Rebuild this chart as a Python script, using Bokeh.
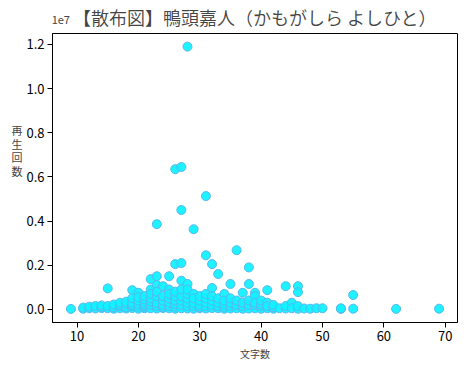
from bokeh.plotting import figure
from bokeh.models import FixedTicker, CustomJSTickFormatter, Range1d, LinearAxis
from bokeh.embed import file_html
from bokeh.resources import INLINE

FONT = "Noto Sans CJK JP"
TITLE_FONT = "'Noto Sans CJK JP DemiLight', 'Noto Sans CJK JP'"

title_text = "【散布図】鴨頭嘉人（かもがしら よしひと）"
x_label = "文字数"
y_label_chars = ["再", "生", "回", "数"]
offset_text = "1e7"
x_ticks = [10, 20, 30, 40, 50, 60, 70]
y_ticks = [0, 2000000, 4000000, 6000000, 8000000, 10000000, 12000000]

char_counts = [
    9,
    11, 11, 12, 12, 13, 13, 14, 14, 14, 15, 15, 15, 16, 16, 16,
    17, 17, 17, 17, 18, 18, 18, 18,
    19, 19, 19, 19, 19, 19, 20, 20, 20, 20, 20, 20,
    21, 21, 21, 21, 21, 21, 21, 22, 22, 22, 22, 22, 22, 22,
    23, 23, 23, 23, 23, 23, 23, 23, 24, 24, 24, 24, 24, 24,
    25, 25, 25, 25, 25, 25, 25, 26, 26, 26, 26, 26, 26, 26, 26,
    27, 27, 27, 27, 27, 27, 27, 27, 27, 28, 28, 28, 28, 28, 28, 28, 28,
    29, 29, 29, 29, 29, 29, 30, 30, 30, 30, 30,
    31, 31, 31, 31, 31, 31, 31, 32, 32, 32, 32, 32, 32,
    33, 33, 33, 33, 33, 34, 34, 34, 34, 34, 35, 35, 35, 35, 35,
    36, 36, 36, 36, 37, 37, 37, 37, 38, 38, 38, 38, 38,
    39, 39, 39, 39, 39, 40, 40, 40, 40, 41, 41, 41, 41,
    42, 42, 42, 43, 44, 44, 44, 45, 45, 46, 46, 46, 46,
    47, 48, 49, 50, 53, 53, 55, 55, 62, 69,
]
view_counts = [
    20000,
    30000, 80000, 50000, 120000, 40000, 150000, 60000, 100000, 180000, 950000, 50000, 150000, 30000, 100000, 220000,
    50000, 150000, 200000, 300000, 40000, 100000, 250000, 350000,
    870000, 60000, 150000, 200000, 300000, 500000, 750000, 30000, 120000, 250000, 400000, 550000,
    50000, 80000, 150000, 200000, 300000, 450000, 600000, 1370000, 900000, 50000, 200000, 350000, 500000, 700000,
    3860000, 1500000, 1100000, 40000, 150000, 300000, 600000, 800000, 1050000, 60000, 100000, 200000, 400000, 600000,
    1500000, 900000, 50000, 150000, 300000, 500000, 700000, 6350000, 2050000, 30000, 120000, 250000, 400000, 600000, 800000,
    6450000, 4500000, 2100000, 1300000, 50000, 200000, 400000, 600000, 900000, 11900000, 1150000, 40000, 150000, 300000, 500000, 700000, 900000,
    3630000, 700000, 30000, 150000, 300000, 500000, 50000, 100000, 200000, 400000, 600000,
    5130000, 2450000, 40000, 150000, 300000, 500000, 700000, 2050000, 970000, 60000, 200000, 400000, 600000,
    1600000, 50000, 150000, 300000, 500000, 700000, 30000, 120000, 250000, 400000, 1150000, 40000, 150000, 300000, 500000,
    2680000, 50000, 200000, 400000, 750000, 30000, 150000, 300000, 1900000, 1150000, 40000, 200000, 400000,
    750000, 600000, 50000, 200000, 300000, 30000, 150000, 250000, 400000, 870000, 300000, 50000, 150000,
    30000, 100000, 200000, 50000, 1050000, 40000, 150000, 300000, 50000, 1050000, 780000, 30000, 150000,
    40000, 30000, 50000, 50000, 20000, 50000, 650000, 30000, 20000, 30000,
]

xmin, xmax = min(char_counts), max(char_counts)
ymin, ymax = 0, max(view_counts)
xpad = (xmax - xmin) * 0.05
ypad = (ymax - ymin) * 0.05
x_lo = xmin - xpad

p = figure(frame_width=405, frame_height=289, output_backend="svg", toolbar_location=None,
           x_range=Range1d(x_lo, xmax + xpad), y_range=Range1d(ymin - ypad, ymax + ypad),
           min_border_left=52, min_border_right=2, min_border_top=33, min_border_bottom=6)

p.scatter(char_counts, view_counts, size=9, fill_color="#12f0ff", fill_alpha=0.95,
          line_color="#58b8ee", line_width=1)

p.xgrid.visible = False
p.ygrid.visible = False
p.outline_line_color = "black"
p.outline_line_width = 1

for ax in (p.xaxis[0], p.yaxis[0]):
    ax.axis_line_color = "black"
    ax.major_tick_line_color = "black"
    ax.major_tick_out = 5
    ax.major_tick_in = 0
    ax.minor_tick_line_color = None
    ax.major_label_text_font = FONT
    ax.major_label_text_font_size = "13px"
    ax.major_label_text_color = "black"
    ax.major_label_standoff = 3

p.xaxis.ticker = FixedTicker(ticks=x_ticks)
p.yaxis.ticker = FixedTicker(ticks=y_ticks)
p.yaxis.formatter = CustomJSTickFormatter(code="return (tick/1e7).toFixed(1);")

p.xaxis.axis_label = x_label
p.xaxis.axis_label_text_font = FONT
p.xaxis.axis_label_text_font_size = "10px"
p.xaxis.axis_label_text_font_style = "normal"
p.xaxis.axis_label_standoff = 2

# y label: stacked characters, horizontal
p.yaxis.axis_label = "\n".join(y_label_chars) + "\n\n\n\n"
p.yaxis.axis_label_orientation = "horizontal"
p.yaxis.axis_label_text_font = FONT
p.yaxis.axis_label_text_font_size = "11px"
p.yaxis.axis_label_text_font_style = "normal"
p.yaxis.axis_label_text_line_height = 0.86
p.yaxis.axis_label_standoff = 1

# top axis carrying the offset text "1e7" and the title
top_tick = x_lo + 1.35
top = LinearAxis(ticker=FixedTicker(ticks=[top_tick]),
                 major_label_overrides={top_tick: offset_text})
top.axis_line_color = None
top.major_tick_line_color = None
top.minor_tick_line_color = None
top.major_label_text_font = FONT
top.major_label_text_font_size = "11px"
top.major_label_standoff = 4
top.axis_label = title_text
top.axis_label_text_font = TITLE_FONT
top.axis_label_text_font_size = "18px"
top.axis_label_text_font_style = "normal"
top.axis_label_standoff = -17
p.add_layout(top, "above")

open("out.html", "w").write(file_html(p, INLINE))
